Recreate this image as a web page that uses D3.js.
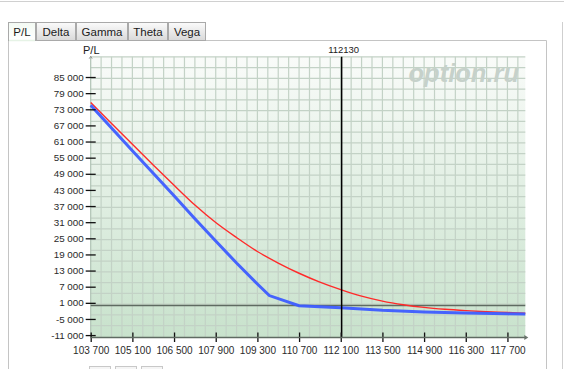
<!DOCTYPE html>
<html><head><meta charset="utf-8">
<script src="https://cdn.jsdelivr.net/npm/d3@7"></script>
<style>
html,body{margin:0;padding:0;background:#fff;}
svg{display:block;}
text{font-family:"Liberation Sans",Arial,sans-serif;}
</style></head>
<body>
<svg id="c" width="564" height="369"></svg>
<script>
// ---- data ----
const tabs = ["P/L","Delta","Gamma","Theta","Vega"];
const xTicks = [103700,105100,106500,107900,109300,110700,112100,113500,114900,116300,117700];
const yTicks = [85000,79000,73000,67000,61000,55000,49000,43000,37000,31000,25000,19000,13000,7000,1000,-5000,-11000];
const spot = 112130;
// expiry P/L (blue)
const expiryX = [103700,104400,105100,105800,106500,107200,107900,108600,109300,109700,110700,112100,113500,114900,116300,117700,118300];
const expiryY = [74500,66000,57600,49200,40800,32300,24000,15800,8000,3700,-100,-850,-1800,-2400,-2800,-3100,-3200];
// current P/L (red)
const currentX = [103700,104400,105100,105800,106500,107200,107900,108600,109300,110000,110700,111400,112100,112800,113500,114200,114900,115600,116300,117000,117700,118300];
const currentY = [75500,67700,59950,52300,44750,37400,30900,25300,20100,15800,12000,8700,5900,3500,1650,300,-700,-1400,-1900,-2300,-2600,-2870];

const svg = d3.select("#c");
const loc = d3.formatLocale({decimal:".",thousands:" ",grouping:[3],currency:["",""],minus:"-"});
const fmt = loc.format(",");

// layout
const L = 90.7, R = 525.3, T = 56.7, B = 337.5;
const x = d3.scaleLinear().domain([103700,118300]).range([L,R]);
const y = d3.scaleLinear().domain([-11900,92560]).range([B,T]);

// page chrome
svg.append("line").attr("x1",0).attr("x2",564).attr("y1",1.5).attr("y2",1.5).attr("stroke","#d0d0d0");
const defs = svg.append("defs");
const tg = defs.append("linearGradient").attr("id","tabg").attr("x1",0).attr("x2",0).attr("y1",0).attr("y2",1);
tg.append("stop").attr("offset","0").attr("stop-color","#fbfbfb");
tg.append("stop").attr("offset","1").attr("stop-color","#d9d9d9");
const ta = defs.append("linearGradient").attr("id","taba").attr("x1",0).attr("x2",0).attr("y1",0).attr("y2",1);
ta.append("stop").attr("offset","0").attr("stop-color","#f3faf3");
ta.append("stop").attr("offset","1").attr("stop-color","#ffffff");
const bg = defs.append("linearGradient").attr("id","plotg").attr("x1",0).attr("x2",0).attr("y1",0).attr("y2",1);
bg.append("stop").attr("offset","0").attr("stop-color","#f9fbf9");
bg.append("stop").attr("offset","1").attr("stop-color","#c8e2cc");

// panel borders
svg.append("line").attr("x1",8.5).attr("x2",546.5).attr("y1",40.5).attr("y2",40.5).attr("stroke","#c4c4c4");
svg.append("line").attr("x1",8.5).attr("x2",8.5).attr("y1",40.5).attr("y2",369).attr("stroke","#c4c4c4");
svg.append("line").attr("x1",546.5).attr("x2",546.5).attr("y1",40.5).attr("y2",369).attr("stroke","#c4c4c4");
svg.append("line").attr("x1",562.5).attr("x2",562.5).attr("y1",22).attr("y2",369).attr("stroke","#cfcfcf");

// tabs
const tabX = [8.5,36.5,76.5,128.5,168.5,206.5];
tabs.forEach((t,i)=>{
  const g = svg.append("g");
  g.append("rect").attr("x",tabX[i]).attr("y",22.5).attr("width",tabX[i+1]-tabX[i]-1).attr("height",18)
    .attr("fill", i===0?"url(#taba)":"url(#tabg)").attr("stroke","#a9a9a9");
  if(i===0) g.append("line").attr("x1",tabX[i]+0.5).attr("x2",tabX[i+1]-1.5).attr("y1",40.5).attr("y2",40.5).attr("stroke","#e6f3e6").attr("stroke-width",1.5);
  g.append("text").attr("x",(tabX[i]+tabX[i+1]-1)/2).attr("y",36).attr("text-anchor","middle")
    .attr("font-size",11.5).attr("fill","#1a1a1a").text(t);
});

// plot background
svg.append("rect").attr("x",L).attr("y",T).attr("width",R-L).attr("height",B-T).attr("fill","url(#plotg)");

// grid
const gx = d3.range(103700+350,118300,350);
const gy = d3.range(-11500+4000,92560,4000);
svg.append("g").selectAll("line").data(gx).join("line")
  .attr("x1",d=>x(d)).attr("x2",d=>x(d)).attr("y1",T).attr("y2",B)
  .attr("stroke","#c3d2c6").attr("stroke-width",1.2);
svg.append("g").selectAll("line").data(gy).join("line")
  .attr("x1",L).attr("x2",R).attr("y1",d=>y(d)).attr("y2",d=>y(d))
  .attr("stroke","#c3d2c6").attr("stroke-width",1.2);
// left axis line (light) with small arrow
svg.append("line").attr("x1",L).attr("x2",L).attr("y1",T).attr("y2",B).attr("stroke","#b0c2b4").attr("stroke-width",1.2);
svg.append("path").attr("d",`M${L-1.5},${T+2}L${L},${T-0.5}L${L+1.5},${T+2}`).attr("fill","none").attr("stroke","#888").attr("stroke-width",0.8);

// watermark
svg.append("text").attr("x",519).attr("y",82).attr("text-anchor","end")
  .attr("font-size",25.5).attr("font-weight","bold").attr("font-style","italic")
  .attr("fill","#c6d1ca").text("option.ru");

// zero line
svg.append("line").attr("x1",L).attr("x2",R).attr("y1",y(0)).attr("y2",y(0)).attr("stroke","#5f6b62").attr("stroke-width",1.3);

// curves
const expiry = expiryX.map((d,i)=>[d,expiryY[i]]);
const current = currentX.map((d,i)=>[d,currentY[i]]);
svg.append("path").datum(current)
  .attr("d",d3.line().x(d=>x(d[0])).y(d=>y(d[1])).curve(d3.curveMonotoneX))
  .attr("fill","none").attr("stroke","#ff2a2a").attr("stroke-width",1.4);
svg.append("path").datum(expiry)
  .attr("d",d3.line().x(d=>x(d[0])).y(d=>y(d[1])))
  .attr("fill","none").attr("stroke","#3d5cff").attr("stroke-width",3).attr("stroke-opacity",0.95);

// spot line
svg.append("line").attr("x1",x(spot)).attr("x2",x(spot)).attr("y1",T).attr("y2",B)
  .attr("stroke","#000").attr("stroke-width",1.5);
svg.append("text").attr("x",x(spot)+2).attr("y",52.5).attr("text-anchor","middle")
  .attr("font-size",9.5).attr("fill","#222").text(String(spot));

// x axis
const xa = svg.append("g").attr("transform",`translate(0,${B})`)
  .call(d3.axisBottom(x).tickValues(xTicks).tickFormat(fmt).tickSize(5).tickPadding(4));
xa.select(".domain").remove();
xa.selectAll(".tick line").attr("y1",-5).attr("y2",4.5).attr("stroke","#111").attr("stroke-width",1.3);
xa.selectAll(".tick text").attr("font-size",10).attr("fill","#2a2a2a").attr("font-family","Liberation Sans, Arial, sans-serif");
svg.append("line").attr("x1",L).attr("x2",R+1).attr("y1",B).attr("y2",B).attr("stroke","#5f6b62").attr("stroke-width",1.3);
svg.append("path").attr("d",`M${R-1},${B-2.5}L${R+3},${B}L${R-1},${B+2.5}Z`).attr("fill","#6a746c");

// y axis
const ya = svg.append("g").attr("transform",`translate(${L},0)`)
  .call(d3.axisLeft(y).tickValues(yTicks).tickFormat(fmt).tickSize(5).tickPadding(2));
ya.select(".domain").remove();
ya.selectAll(".tick line").attr("x1",5).attr("x2",-5).attr("stroke","#111").attr("stroke-width",1.3);
ya.selectAll(".tick text").attr("x",-7).attr("font-size",9.8).attr("fill","#2a2a2a").attr("font-family","Liberation Sans, Arial, sans-serif");

// axis title
svg.append("text").attr("x",83).attr("y",54).attr("font-size",11).attr("fill","#222").text("P/L");

// bottom small buttons
[89,115,141].forEach(bx=>{
  svg.append("rect").attr("x",bx+0.5).attr("y",366.5).attr("width",21).attr("height",8)
    .attr("fill","#f5f5f5").attr("stroke","#c8c8c8");
});
</script>
</body></html>
